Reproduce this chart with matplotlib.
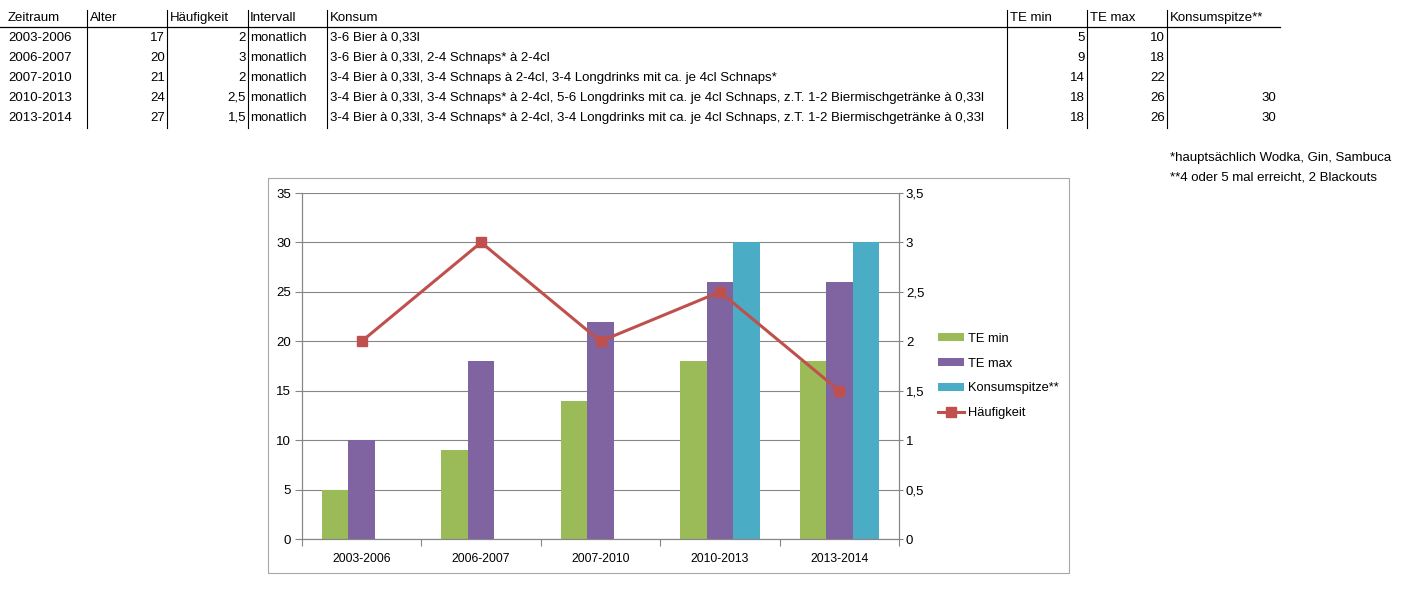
import numpy as np
import matplotlib.pyplot as plt
from matplotlib.patches import Rectangle
from matplotlib.lines import Line2D

# table data
zeitraum = ["2003-2006", "2006-2007", "2007-2010", "2010-2013", "2013-2014"]
alter = [17, 20, 21, 24, 27]
haeufigkeit = [2, 3, 2, 2.5, 1.5]
intervall = ["monatlich"] * 5
konsum = [
    "3-6 Bier à 0,33l",
    "3-6 Bier à 0,33l, 2-4 Schnaps* à 2-4cl",
    "3-4 Bier à 0,33l, 3-4 Schnaps à 2-4cl, 3-4 Longdrinks mit ca. je 4cl Schnaps*",
    "3-4 Bier à 0,33l, 3-4 Schnaps* à 2-4cl, 5-6 Longdrinks mit ca. je 4cl Schnaps, z.T. 1-2 Biermischgetränke à 0,33l",
    "3-4 Bier à 0,33l, 3-4 Schnaps* à 2-4cl, 3-4 Longdrinks mit ca. je 4cl Schnaps, z.T. 1-2 Biermischgetränke à 0,33l",
]
te_min = [5, 9, 14, 18, 18]
te_max = [10, 18, 22, 26, 26]
konsumspitze = [None, None, None, 30, 30]
headers = ["Zeitraum", "Alter", "Häufigkeit", "Intervall", "Konsum", "TE min", "TE max", "Konsumspitze**"]
notes = ["*hauptsächlich Wodka, Gin, Sambuca", "**4 oder 5 mal erreicht, 2 Blackouts"]

plt.rcParams["font.family"] = ["Liberation Sans", "DejaVu Sans"]

W, H = 1415, 599
fig = plt.figure(figsize=(W / 100, H / 100), dpi=100)


def fx(x):
    return x / W


def fy(y):
    return 1 - y / H


def de(v):
    return f"{v:g}".replace(".", ",")


# ---- table on top ----
tsize = 9.5
col_lines = [87, 167, 248, 327, 1007, 1087, 1167]
for x in col_lines:
    fig.add_artist(Line2D([fx(x), fx(x)], [fy(10), fy(128)], color="black", lw=0.8))
fig.add_artist(Line2D([0, fx(1280)], [fy(27), fy(27)], color="black", lw=0.9))

head_x = [8, 90, 170, 250, 330, 1010, 1090, 1170]
for hx, h in zip(head_x, headers):
    fig.text(fx(hx), fy(18), h, fontsize=tsize, va="center", ha="left")

row_y = [38, 58, 78, 98, 118]
for i, ry in enumerate(row_y):
    fig.text(fx(8), fy(ry), zeitraum[i], fontsize=tsize, va="center")
    fig.text(fx(165), fy(ry), str(alter[i]), fontsize=tsize, va="center", ha="right")
    fig.text(fx(246), fy(ry), de(haeufigkeit[i]), fontsize=tsize, va="center", ha="right")
    fig.text(fx(250), fy(ry), intervall[i], fontsize=tsize, va="center")
    fig.text(fx(330), fy(ry), konsum[i], fontsize=tsize, va="center")
    fig.text(fx(1085), fy(ry), str(te_min[i]), fontsize=tsize, va="center", ha="right")
    fig.text(fx(1165), fy(ry), str(te_max[i]), fontsize=tsize, va="center", ha="right")
    if konsumspitze[i] is not None:
        fig.text(fx(1276), fy(ry), str(konsumspitze[i]), fontsize=tsize, va="center", ha="right")

for j, n in enumerate(notes):
    fig.text(fx(1170), fy(158 + 20 * j), n, fontsize=tsize, va="center")

# ---- chart ----
fig.add_artist(Rectangle((fx(268), fy(573)), fx(1069) - fx(268), fy(178) - fy(573),
                         transform=fig.transFigure, fill=False, ec="#a6a6a6", lw=0.8))

ax = fig.add_axes([fx(302), fy(539), fx(899) - fx(302), fy(193) - fy(539)])
ax2 = ax.twinx()

green, purple, cyan, red = "#9BBB59", "#8064A2", "#4BACC6", "#C0504D"
grey = "#868686"

x = np.arange(len(zeitraum))
w = 1 / 4.5
b1 = ax.bar(x - w, te_min, w, color=green, label="TE min")
b2 = ax.bar(x, te_max, w, color=purple, label="TE max")
idx = [i for i, v in enumerate(konsumspitze) if v is not None]
b3 = ax.bar(x[idx] + w, [konsumspitze[i] for i in idx], w, color=cyan, label="Konsumspitze**")

l1, = ax2.plot(x, haeufigkeit, color=red, lw=2.2, marker="s", markersize=7, label="Häufigkeit")

ax.set_xlim(-0.5, len(x) - 0.5)
ax.set_ylim(0, 35)
ax.set_yticks(np.arange(0, 36, 5))
ax2.set_ylim(0, 3.5)
ax2.set_yticks(np.arange(0, 3.6, 0.5))
ax2.set_yticklabels([de(v) for v in np.arange(0, 3.6, 0.5)])

ax.set_axisbelow(True)
ax.yaxis.grid(True, color=grey, lw=0.8)

ax.set_xticks(np.arange(-0.5, len(x), 1))
ax.set_xticklabels([])
ax.set_xticks(x, minor=True)
ax.set_xticklabels(zeitraum, minor=True)
ax.tick_params(axis="x", which="major", length=5, color=grey, direction="out")
ax.tick_params(axis="x", which="minor", length=0, pad=10, labelsize=8.8)
ax.tick_params(axis="y", length=5, color=grey, labelsize=9.5, pad=3)
ax2.tick_params(axis="y", length=3, color=grey, labelsize=9.5, pad=2)

for a in (ax, ax2):
    a.spines["top"].set_visible(False)
    for s in ("left", "right", "bottom"):
        a.spines[s].set_color(grey)
        a.spines[s].set_linewidth(0.8)

fig.legend([b1, b2, b3, l1], ["TE min", "TE max", "Konsumspitze**", "Häufigkeit"],
           loc="center left", bbox_to_anchor=(fx(938), fy(376)), bbox_transform=fig.transFigure,
           frameon=False, fontsize=9.3, handlelength=2.0, handleheight=0.6,
           labelspacing=1.0, handletextpad=0.3, borderpad=0, borderaxespad=0)

fig.savefig("out.png", dpi=100)
